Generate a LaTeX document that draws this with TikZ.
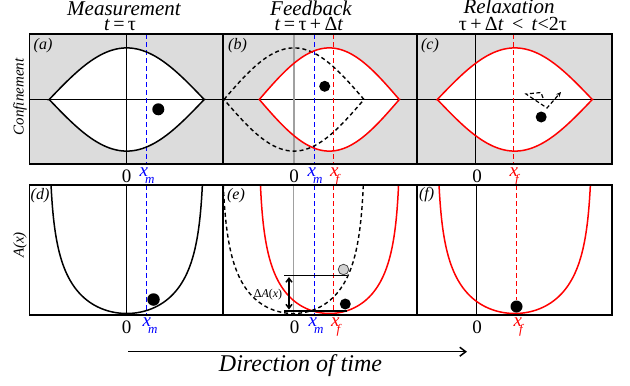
\documentclass[tikz,border=0pt]{standalone}
\usepackage{fontspec}
\setmainfont{Liberation Serif}
\usepackage{xcolor}
\usetikzlibrary{arrows.meta, positioning}
\definecolor{panelgray}{RGB}{220,220,220}
\definecolor{axisgray}{RGB}{160,160,160}

\newcommand{\lenspath}[2]{plot[domain=-#2:#2, samples=61] ({#1+\x},{99.5-51.6*cos(90*\x/#2)}) -- plot[domain=#2:-#2, samples=61] ({#1+\x},{99.5+51.6*cos(90*\x/#2)}) -- cycle}
\newcommand{\wellpath}[2]{plot[domain=-76.6:76.6, samples=121, variable=\t] ({#1+#2*sin(\t)},{313.5+88*ln(cos(\t))})}
\newcommand{\xsub}[1]{\raisebox{7pt}{\textit{x}}\kern-3pt{\fontsize{13}{13}\selectfont\textit{#1}}}

\begin{document}
\begin{tikzpicture}[
    x=1pt, y=-1pt,
    panelframe/.style={line width=1.2pt},
    axisline/.style={line width=0.8pt},
    grayaxis/.style={line width=1.2pt, draw=axisgray},
    wellcurve/.style={line width=1.5pt},
    oldcurve/.style={line width=1.4pt, dash pattern=on 4pt off 3pt},
    mline/.style={draw=blue, line width=1pt, dash pattern=on 5pt off 3pt},
    fline/.style={draw=red, line width=1pt, dash pattern=on 5pt off 3pt},
    ball/.style={circle, fill=black, inner sep=0pt, minimum size=12pt},
    ghost/.style={circle, fill=gray!35, draw=gray!60!black, line width=0.8pt, inner sep=0pt, minimum size=10.5pt},
    tag/.style={font=\fontsize{16}{16}\selectfont\itshape, inner sep=0pt},
    title/.style={font=\fontsize{21}{21}\selectfont\itshape, inner sep=0pt, anchor=base},
    when/.style={font=\fontsize{20}{20}\selectfont, inner sep=0pt, anchor=base},
    tick/.style={font=\fontsize{19}{19}\selectfont, inner sep=0pt, anchor=base},
    side/.style={font=\fontsize{15}{15}\selectfont\itshape, rotate=90, inner sep=0pt},
    walk/.style={line width=1.2pt, dash pattern=on 4pt off 2.5pt, -{Stealth[length=5pt, width=4.5pt]}},
    timearrow/.style={line width=1.5pt, -{Straight Barb[length=6pt, width=9pt]}},
    levelline/.style={line width=1.2pt},
    gaparrow/.style={line width=1.5pt, {Straight Barb[length=4pt, width=6pt]}-{Straight Barb[length=4pt, width=6pt]}}
]
\useasboundingbox (0,0) rectangle (630,386);

% Titles
\node[title] (tMeas) at (124,15) {Measurement};
\node[when] (tMeasT) at (120,30) {\textit{t}\,=\,τ};
\node[title] (tFeed) at (311,15) {Feedback};
\node[when] (tFeedT) at (309,30) {\textit{t}\,=\,τ\,+\,Δ\textit{t}};
\node[title] (tRelax) at (509,13.5) {Relaxation};
\node[when] (tRelaxT) at (513,30) {τ\,+\,Δ\textit{t} \,<\, \textit{t}<2τ};

% Side labels
\node[side] (conf) at (20,97) {Confinement};
\node[side] (avail) at (20,245) {A(x)};

% Panel (a): measurement
\fill[panelgray] (29.5,34) rectangle (223,164);
\fill[white] \lenspath{126.7}{77.5};
\draw[axisline] (29.5,99.5) -- (223,99.5);
\draw[axisline] (126.7,34) -- (126.7,164);
\draw[mline] (146.7,34) -- (146.7,164);
\draw[wellcurve] \lenspath{126.7}{77.5};
\node[ball] (dotA) at (158.3,109.3) {};
\node[tag] (labA) at (43,46) {(a)};

% Panel (b): feedback
\fill[panelgray] (223,34) rectangle (417,164);
\fill[white] \lenspath{329.3}{70};
\draw[axisline] (223,99.5) -- (417,99.5);
\draw[grayaxis] (294,34) -- (294,164);
\draw[mline] (314.5,34) -- (314.5,164);
\draw[fline] (333.5,34) -- (333.5,164);
\draw[oldcurve] \lenspath{294}{70};
\draw[wellcurve, red] \lenspath{329.3}{70};
\node[ball, minimum size=11pt] (dotB) at (324.7,86.3) {};
\node[tag] (labB) at (237.5,46) {(b)};

% Panel (c): relaxation
\fill[panelgray] (417,34) rectangle (612,164);
\fill[white] \lenspath{514.8}{77.5};
\draw[axisline] (417,99.5) -- (612,99.5);
\draw[axisline] (475.7,34) -- (475.7,164);
\draw[fline] (513.3,34) -- (513.3,164);
\draw[wellcurve, red] \lenspath{514.8}{77.5};
\node[ball, minimum size=11pt] (dotC) at (541.2,117) {};
\coordinate (w0) at (543,98);
\coordinate (w1) at (541,92.5);
\coordinate (w2) at (526,94);
\coordinate (w3) at (547,108);
\coordinate (w4) at (561,92);
\draw[walk] (w0) -- (w1) -- (w2) -- (w3) -- (w4);
\node[tag] (labC) at (430,46) {(c)};

% Top frames
\draw[panelframe] (29.5,34) rectangle (223,164);
\draw[panelframe] (223,34) rectangle (417,164);
\draw[panelframe] (417,34) rectangle (612,164);

% Top axis labels
\node[tick] (zeroA) at (126.7,182) {0};
\node[tick, blue] (xmA) at (147,183) {\xsub{m}};
\node[tick] (zeroB) at (294,182) {0};
\node[tick, blue] (xmB) at (315,183) {\xsub{m}};
\node[tick, red] (xfB) at (335.5,183) {\xsub{f}};
\node[tick] (zeroC) at (477,182) {0};
\node[tick, red] (xfC) at (515,183) {\xsub{f}};

% Panel (d)
\draw[axisline] (126.7,185) -- (126.7,315);
\draw[mline] (146.7,185) -- (146.7,315);
\draw[wellcurve] \wellpath{126.7}{77.8};
\node[ball, minimum size=12.5pt] (dotD) at (153.5,299.5) {};
\node[tag] (labD) at (40,196) {(d)};

% Panel (e)
\draw[grayaxis] (293.3,185) -- (293.3,315);
\draw[mline] (314,185) -- (314,315);
\draw[fline] (333.3,185) -- (333.3,315);
\draw[oldcurve] \wellpath{293.3}{72};
\draw[wellcurve, red] \wellpath{329.5}{71};
\coordinate (hiL) at (284,275.5);
\coordinate (hiR) at (347,275.5);
\coordinate (loL) at (284,311);
\coordinate (loR) at (347,311);
\draw[levelline] (hiL) -- (hiR);
\draw[levelline] (loL) -- (loR);
\coordinate (gapTop) at (289,277);
\coordinate (gapBot) at (289,309.5);
\draw[gaparrow] (gapTop) -- (gapBot);
\node[font=\fontsize{12}{12}\selectfont, inner sep=0pt] (gapLab) at (268,294.5) {Δ\textit{A}(\textit{x})};
\node[ghost] (oldE) at (343.5,269.5) {};
\node[ball, minimum size=11pt] (dotE) at (345.3,304) {};
\node[tag] (labE) at (236,196) {(e)};

% Panel (f)
\draw[axisline] (476,185) -- (476,315);
\draw[wellcurve, red] \wellpath{514.7}{77.8};
\node[ball] (dotF) at (516.5,306.5) {};
\coordinate (fTop) at (516.5,185);
\draw[fline] (fTop) -- (dotF.north);
\node[tag] (labF) at (426.7,195) {(f)};

% Bottom frames
\draw[panelframe] (29.5,185) rectangle (223,315);
\draw[panelframe] (223,185) rectangle (417,315);
\draw[panelframe] (417,185) rectangle (612,315);

% Bottom axis labels
\node[tick] (zeroD) at (126.7,333) {0};
\node[tick, blue] (xmD) at (150,333) {\xsub{m}};
\node[tick] (zeroE) at (294.5,333) {0};
\node[tick, blue] (xmE) at (316,333) {\xsub{m}};
\node[tick, red] (xfE) at (336.5,333) {\xsub{f}};
\node[tick] (zeroF) at (477,333) {0};
\node[tick, red] (xfF) at (519,333) {\xsub{f}};

% Direction of time
\coordinate (tStart) at (128,351.7);
\coordinate (tEnd) at (467,351.7);
\draw[timearrow] (tStart) -- (tEnd);
\node[font=\fontsize{24}{24}\selectfont\itshape, inner sep=0pt, anchor=base] (dirTime) at (300.5,371.5) {Direction of time};
\end{tikzpicture}
\end{document}
